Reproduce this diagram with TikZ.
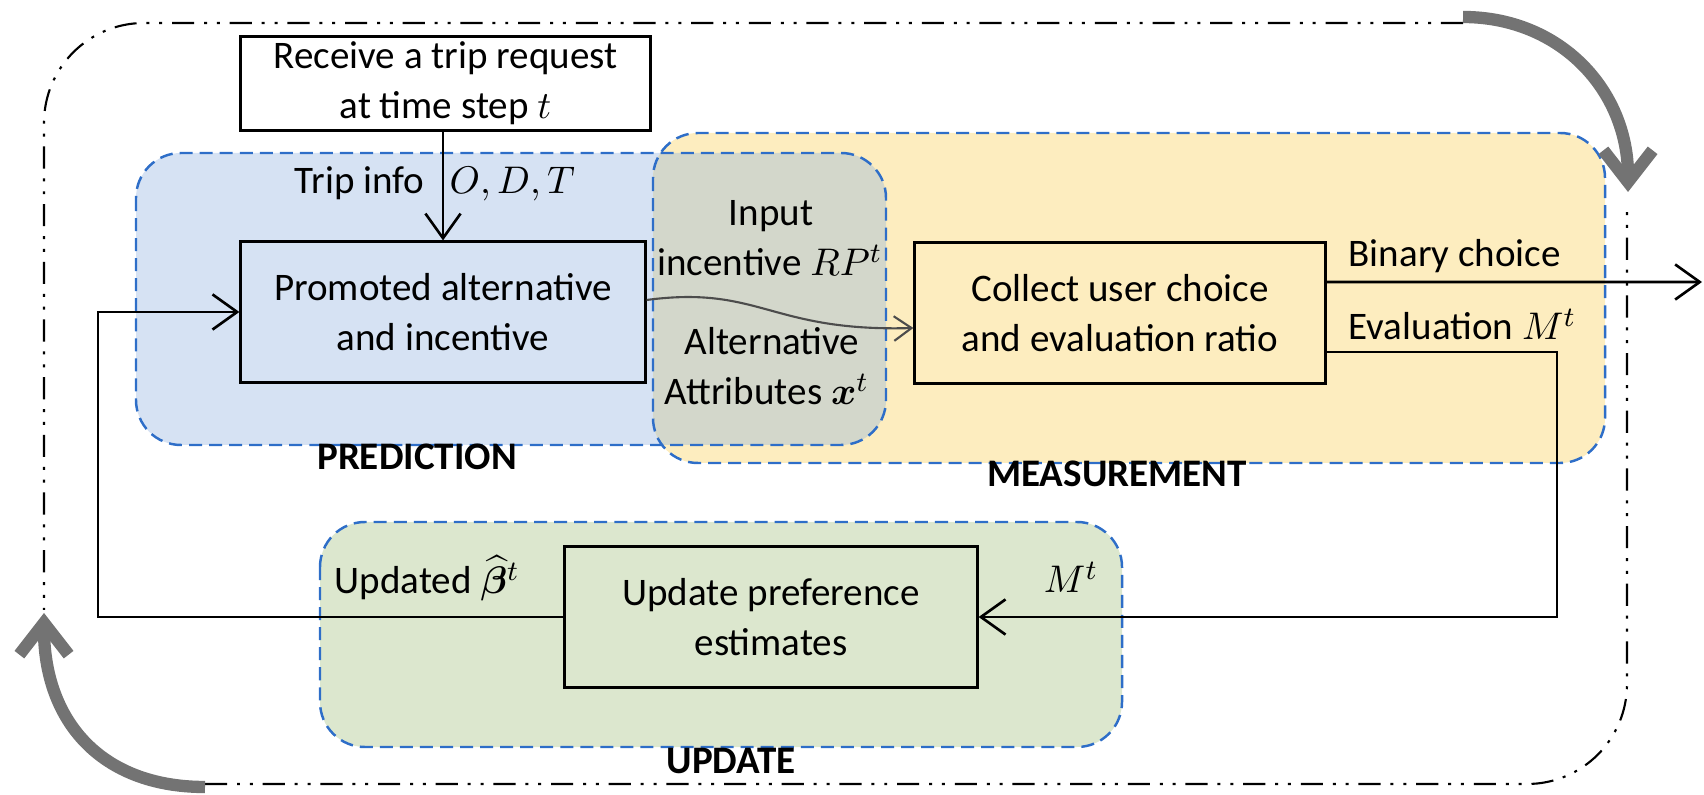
\documentclass[tikz,border=0pt]{standalone}
\usepackage{amsmath}
\usepackage{bm}
\usepackage{fontspec}
\setmainfont{Carlito}
\usetikzlibrary{arrows.meta,calc}
\definecolor{bluefill}{RGB}{214,226,243}
\definecolor{yellowfill}{RGB}{253,237,191}
\definecolor{greenfill}{RGB}{220,231,206}
\definecolor{grayfill}{RGB}{211,215,203}
\definecolor{dashblue}{RGB}{46,110,200}
\definecolor{bigarrow}{RGB}{115,115,115}
\begin{document}
\begin{tikzpicture}[x=0.01cm,y=-0.01cm,
  font=\fontsize{11.1}{14.2}\selectfont,
  box/.style={draw=black,line width=0.85pt,align=center,inner sep=0pt},
  region/.style={draw=dashblue,line width=0.7pt,dash pattern=on 3.7pt off 2pt,rounded corners=0.45cm},
  conn/.style={line width=0.75pt,-{Straight Barb[length=7pt,width=10pt]}},
  lbl/.style={inner sep=0pt},
  regiontitle/.style={inner sep=0pt,font=\fontsize{11.1}{14.2}\selectfont\bfseries},
  outerline/.style={line width=0.6pt,dash pattern=on 6.3pt off 2.8pt on 0.85pt off 2.8pt on 0.85pt off 2.8pt,rounded corners=1cm},
  cyclearrow/.style={draw=bigarrow,line width=3.5pt,-{Straight Barb[length=9pt,width=14pt]}}
]
\useasboundingbox (0,0) rectangle (1704,795);

% regions
\fill[bluefill, rounded corners=0.45cm] (136,153) rectangle (886,445);
\fill[yellowfill, rounded corners=0.45cm] (653,133) rectangle (1605,463);
\begin{scope}
  \clip[rounded corners=0.45cm] (136,153) rectangle (886,445);
  \fill[grayfill, rounded corners=0.45cm] (653,133) rectangle (1605,463);
\end{scope}
\draw[region] (136,153) rectangle (886,445);
\draw[region] (653,133) rectangle (1605,463);
\draw[region, fill=greenfill] (320,522) rectangle (1122,747);

% outer dash-dot loop
\draw[outerline] (205,784) -- (1627,784) -- (1627,207);
\draw[outerline] (1463,23) -- (44,23) -- (44,610);
\draw[cyclearrow] (1463,17) .. controls (1560,17) and (1628,90) .. (1628,192);
\draw[cyclearrow] (205,787) .. controls (100,787) and (44,720) .. (44,613);

% boxes
\node[box, fill=white, minimum width=4.09cm, minimum height=0.93cm] (req) at (445.5,83.5) {Receive a trip request\\at time step $t$};
\node[box, minimum width=4.04cm, minimum height=1.40cm] (prom) at (443,312) {Promoted alternative\\and incentive};
\node[box, minimum width=4.10cm, minimum height=1.40cm] (coll) at (1120,313) {Collect user choice\\and evaluation ratio};
\node[box, minimum width=4.12cm, minimum height=1.40cm] (upd) at (771,617) {Update preference\\estimates};

% labels
\node[lbl, anchor=base east] (tripinfo) at (425,194) {Trip info};
\node[lbl, anchor=base west] (odt) at (449,194) {$O,D,T$};
\node[lbl, anchor=base] (inp1) at (771,226) {Input};
\node[lbl, anchor=base] (inp2) at (770,276) {incentive $RP^t$};
\node[lbl, anchor=base] (alt1) at (772,355) {Alternative};
\node[lbl, anchor=base] (alt2) at (767,405) {Attributes $\bm{x}^t$};
\node[lbl, anchor=base west] (bin) at (1348,267) {Binary choice};
\node[lbl, anchor=base west] (eval) at (1348,340) {Evaluation $M^t$};
\node[lbl, anchor=base] (mt) at (1071,593) {$M^t$};
\node[lbl, anchor=base west] (updlbl) at (334,594) {Updated $\widehat{\bm{\beta}}^t$};
\node[regiontitle, anchor=base] (pred) at (417,470) {PREDICTION};
\node[regiontitle, anchor=base] (meas) at (1117,487) {MEASUREMENT};
\node[regiontitle, anchor=base] (updt) at (731,773) {UPDATE};

% connectors
\draw[conn] (prom.north |- req.south) -- (prom.north);
\coordinate (fbx) at (98,0);
\draw[conn] (upd.west) -- (upd.west -| fbx) |- (prom.west);
\coordinate (outend) at (1702,282);
\draw[conn] ([yshift=0.31cm]coll.east) -- (outend);
\coordinate (evx) at (1557,0);
\draw[conn] ([yshift=-0.39cm]coll.east) -| (evx |- upd.east) -- (upd.east);
\draw[line width=0.6pt, draw=black!70, -{Straight Barb[length=5pt,width=7pt]}] ([yshift=0.12cm]prom.east) .. controls (760,285) and (770,332) .. ([yshift=-0.15cm]coll.west);
\end{tikzpicture}
\end{document}
